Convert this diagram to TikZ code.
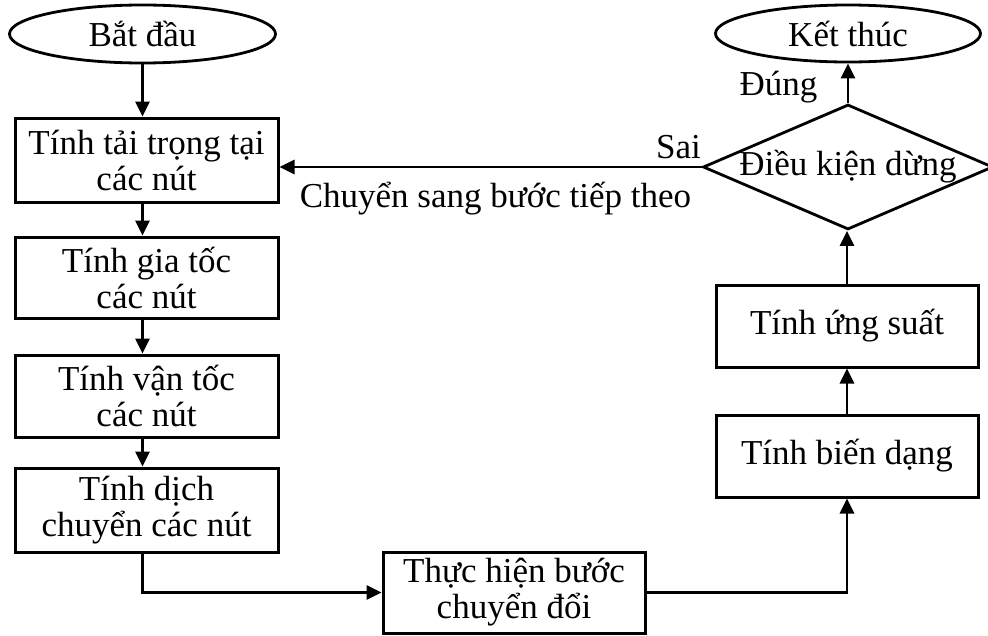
\documentclass[tikz,border=0pt]{standalone}
\usepackage{fontspec}
\setmainfont{Liberation Serif}
\usetikzlibrary{shapes.geometric,arrows.meta,positioning}
\tikzset{
  every node/.style={font=\fontsize{35}{36}\selectfont},
  procbox/.style={draw, line width=3pt, rectangle, minimum width=263pt, minimum height=82pt, inner sep=0pt, align=center},
  termnode/.style={draw, line width=2.8pt, ellipse, minimum width=266pt, minimum height=58pt, inner sep=0pt},
  decnode/.style={draw, line width=2.8pt, diamond, minimum width=290pt, minimum height=125pt, inner sep=0pt},
  conn/.style={line width=2.7pt, -{Triangle[length=15pt,width=14pt]}},
  lbl/.style={anchor=base, inner sep=0pt}
}
\begin{document}
\begin{tikzpicture}[x=1pt,y=-1pt]
\useasboundingbox (0,0) rectangle (988,635);
\node[termnode] (s) at (142.5,34) {Bắt đầu};
\node[procbox, minimum height=84pt] (b1) at (146.5,160) {Tính tải trọng tại\\các nút};
\node[procbox, minimum height=81pt] (b2) at (146.5,277.5) {Tính gia tốc\\các nút};
\node[procbox] (b3) at (146.5,396) {Tính vận tốc\\các nút};
\node[procbox, minimum height=84pt] (b4) at (146.5,510) {Tính dịch\\chuyển các nút};
\node[procbox, minimum width=262pt, minimum height=81pt] (b5) at (514,592.5) {Thực hiện bước\\chuyển đổi};
\node[procbox, minimum width=262pt] (b6) at (847,456) {Tính biến dạng};
\node[procbox, minimum width=262pt] (b7) at (847,326) {Tính ứng suất};
\node[decnode] (d) at (848,167) {};
\node (dt) at (848,167) {Điều kiện dừng};
\node[termnode, minimum width=265pt, minimum height=57pt] (e) at (848,33.5) {Kết thúc};
\node[lbl] (sai) at (678.5,158) {Sai};
\node[lbl] (chuyen) at (495.5,207) {Chuyển sang bước tiếp theo};
\node[lbl] (dung) at (778.5,95) {Đúng};
\draw[conn] (s.south) -- (s.south |- b1.north);
\draw[conn] (s.south |- b1.south) -- (s.south |- b2.north);
\draw[conn] (s.south |- b2.south) -- (s.south |- b3.north);
\draw[conn] (s.south |- b3.south) -- (s.south |- b4.north);
\draw[conn] (s.south |- b4.south) |- (b5.west);
\draw[conn] (b5.east) -| (b6.south);
\draw[conn] (b6.north) -- (b7.south);
\draw[conn] (b7.north) -- (b7.north |- d.south);
\draw[conn] (d.north) -- (d.north |- e.south);
\draw[conn] (d.west) -- (d.west -| b1.east);
\end{tikzpicture}
\end{document}
